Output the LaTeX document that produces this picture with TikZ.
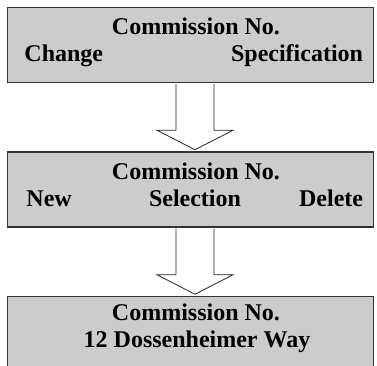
\documentclass[tikz,border=0pt]{standalone}
\usepackage{fontspec}
\setmainfont{Liberation Serif}
\usetikzlibrary{positioning}

\begin{document}
\begin{tikzpicture}[panel/.style={rectangle,draw=black!80,line width=1.5pt,fill=black!20,minimum width=366pt,minimum height=75pt,inner sep=0pt},
        lbl/.style={font=\fontsize{24}{27}\selectfont\bfseries,inner sep=0pt},
        blockarrow/.style={draw=black!85,line width=0.8pt,fill=white}]
        \useasboundingbox (0,0) rectangle (377pt,-366pt);

        \node[panel] (change) at (190.5pt,-45pt) {};
        \node[panel] (select) [below=68pt of change] {};
        \node[panel] (address) [below=68pt of select] {};

        \node[lbl,anchor=base] (ct) at ([xshift=5.5pt,yshift=-27.5pt]change.north) {Commission No.};
        \node[lbl,anchor=base west] (cl) at ([xshift=17.5pt,yshift=-55pt]change.north west) {Change};
        \node[lbl,anchor=base east] (cr) at ([xshift=-11pt,yshift=-55pt]change.north east) {Specification};

        \node[lbl,anchor=base] (st) at ([xshift=5.5pt,yshift=-28pt]select.north) {Commission No.};
        \node[lbl,anchor=base west] (sl) at ([xshift=19.5pt,yshift=-55pt]select.north west) {New};
        \node[lbl,anchor=base] (sm) at ([xshift=4.5pt,yshift=-55pt]select.north) {Selection};
        \node[lbl,anchor=base east] (sr) at ([xshift=-11pt,yshift=-55pt]select.north east) {Delete};

        \node[lbl,anchor=base] (at) at ([xshift=5.5pt,yshift=-24.5pt]address.north) {Commission No.};
        \node[lbl,anchor=base] (am) at ([xshift=6.5pt,yshift=-52pt]address.north) {12 Dossenheimer Way};

        \foreach \p/\q in {change/select,select/address}{
            \draw[blockarrow] ([xshift=-14.5pt,yshift=-0.8pt]\p.south) |- ([xshift=-33.5pt,yshift=21pt]\q.north)
                -- ([xshift=4.5pt,yshift=1.5pt]\q.north) -- ([xshift=42.5pt,yshift=21pt]\q.north)
                -| ([xshift=23.5pt,yshift=-0.8pt]\p.south);
        }
    \end{tikzpicture}
\end{document}
